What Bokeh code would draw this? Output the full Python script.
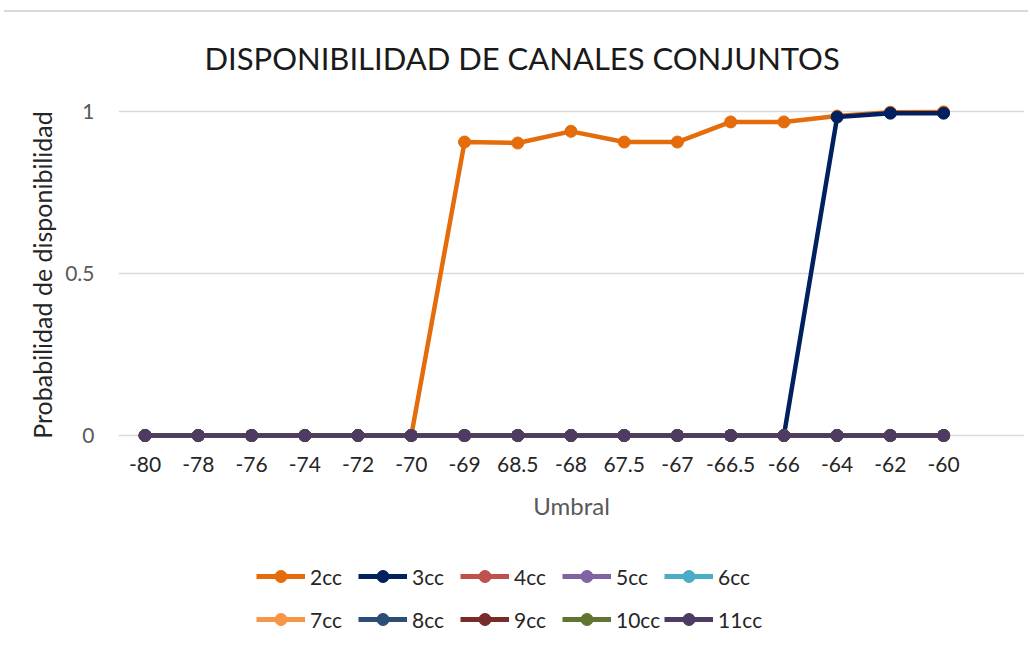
from bokeh.plotting import figure
from bokeh.layouts import column
from bokeh.models import FixedTicker, Legend, LegendItem, Range1d, Div
from bokeh.embed import file_html
from bokeh.resources import INLINE

categories = ["-80", "-78", "-76", "-74", "-72", "-70", "-69", "68.5", "-68",
              "67.5", "-67", "-66.5", "-66", "-64", "-62", "-60"]

cc2 = [0, 0, 0, 0, 0, 0, 0.905, 0.902, 0.938, 0.905, 0.905, 0.967, 0.967, 0.985, 0.997, 0.998]
cc3 = [0, 0, 0, 0, 0, 0, 0, 0, 0, 0, 0, 0, 0, 0.982, 0.994, 0.994]
cc4 = [0, 0, 0, 0, 0, 0, 0, 0, 0, 0, 0, 0, 0, 0, 0, 0]
cc5 = [0, 0, 0, 0, 0, 0, 0, 0, 0, 0, 0, 0, 0, 0, 0, 0]
cc6 = [0, 0, 0, 0, 0, 0, 0, 0, 0, 0, 0, 0, 0, 0, 0, 0]
cc7 = [0, 0, 0, 0, 0, 0, 0, 0, 0, 0, 0, 0, 0, 0, 0, 0]
cc8 = [0, 0, 0, 0, 0, 0, 0, 0, 0, 0, 0, 0, 0, 0, 0, 0]
cc9 = [0, 0, 0, 0, 0, 0, 0, 0, 0, 0, 0, 0, 0, 0, 0, 0]
cc10 = [0, 0, 0, 0, 0, 0, 0, 0, 0, 0, 0, 0, 0, 0, 0, 0]
cc11 = [0, 0, 0, 0, 0, 0, 0, 0, 0, 0, 0, 0, 0, 0, 0, 0]

series_names = ["2cc", "3cc", "4cc", "5cc", "6cc", "7cc", "8cc", "9cc", "10cc", "11cc"]
series_values = [cc2, cc3, cc4, cc5, cc6, cc7, cc8, cc9, cc10, cc11]
colors = ["#E46C0A", "#002060", "#C0504D", "#8064A2", "#4BACC6",
          "#F79646", "#2C4D75", "#772C2A", "#5F7530", "#4D3B62"]

y_ticks = [0, 0.5, 1]
y_labels = {0: "0", 0.5: "0.5", 1: "1"}

FONT = "Lato"
xs = list(range(len(categories)))

top_rule = Div(text="", width=1024, height=12, margin=(0, 0, 0, 4),
               styles={"border-bottom": "2px solid #D9D9D9",
                       "box-sizing": "border-box"})

p = figure(width=1028, height=528, output_backend="svg", toolbar_location=None,
           x_range=Range1d(-0.5, 16.52), y_range=Range1d(-0.04, 1.03),
           min_border_left=118, min_border_right=4, min_border_top=89,
           min_border_bottom=92)

p.title.text = "DISPONIBILIDAD DE CANALES CONJUNTOS"
p.title.text_font = FONT
p.title.text_font_size = "31px"
p.title.text_font_style = "normal"
p.title.text_color = "#1a1a1a"
p.title.align = "left"
p.title.offset = 86
p.title.standoff = 49

p.outline_line_color = None
p.background_fill_color = "white"
p.border_fill_color = "white"

p.xgrid.grid_line_color = None
p.ygrid.grid_line_color = "#D9D9D9"
p.ygrid.grid_line_width = 1.5
p.yaxis.ticker = FixedTicker(ticks=y_ticks)
p.yaxis.major_label_overrides = y_labels
p.xaxis.ticker = FixedTicker(ticks=xs)
p.xaxis.major_label_overrides = {i: c for i, c in enumerate(categories)}

for ax in (p.xaxis[0], p.yaxis[0]):
    ax.axis_line_color = None
    ax.major_tick_line_color = None
    ax.minor_tick_line_color = None
    ax.major_label_text_font = FONT
    ax.axis_label_text_font = FONT
    ax.axis_label_text_font_style = "normal"

p.xaxis.major_label_text_font_size = "21px"
p.xaxis.major_label_text_color = "#262626"
p.xaxis.major_label_standoff = 2
p.xaxis.axis_label = "Umbral"
p.xaxis.axis_label_text_font_size = "24px"
p.xaxis.axis_label_text_color = "#595959"
p.xaxis.axis_label_standoff = 16

p.yaxis.major_label_text_font_size = "21px"
p.yaxis.major_label_text_color = "#595959"
p.yaxis.major_label_standoff = 18
p.yaxis.axis_label = "Probabilidad de disponibilidad"
p.yaxis.axis_label_text_font_size = "25px"
p.yaxis.axis_label_text_color = "#262626"
p.yaxis.axis_label_standoff = 5

for name, vals, col in zip(series_names, series_values, colors):
    p.line(xs, vals, line_color=col, line_width=4.5)
    p.scatter(xs, vals, marker="circle", size=12, fill_color=col, line_color=col)

# legend strip below the chart (its own copies of the series sit outside its view)
lg = figure(width=1028, height=108, output_backend="svg", toolbar_location=None,
            x_range=Range1d(0, 1), y_range=Range1d(10, 11),
            min_border_left=118, min_border_right=4, min_border_top=0,
            min_border_bottom=0)
lg.axis.visible = False
lg.grid.visible = False
lg.outline_line_color = None
lg.border_fill_color = "white"

items = []
for name, vals, col in zip(series_names, series_values, colors):
    r1 = lg.line(xs, vals, line_color=col, line_width=5)
    r2 = lg.scatter(xs, vals, marker="circle", size=12, fill_color=col, line_color=col)
    items.append(LegendItem(label=name, renderers=[r1, r2]))

common = dict(orientation="horizontal", glyph_width=49, glyph_height=30,
              label_height=30, label_width=45, label_standoff=5, spacing=3,
              padding=0, margin=0, label_text_font=FONT,
              label_text_font_size="21px", label_text_color="#262626",
              border_line_color=None, background_fill_alpha=0)
legend1 = Legend(items=items[:5], location=(138, 57), **common)
legend2 = Legend(items=items[5:], location=(138, 14), **common)
lg.add_layout(legend1, "center")
lg.add_layout(legend2, "center")

open("out.html", "w").write(file_html(column(top_rule, p, lg), INLINE))
